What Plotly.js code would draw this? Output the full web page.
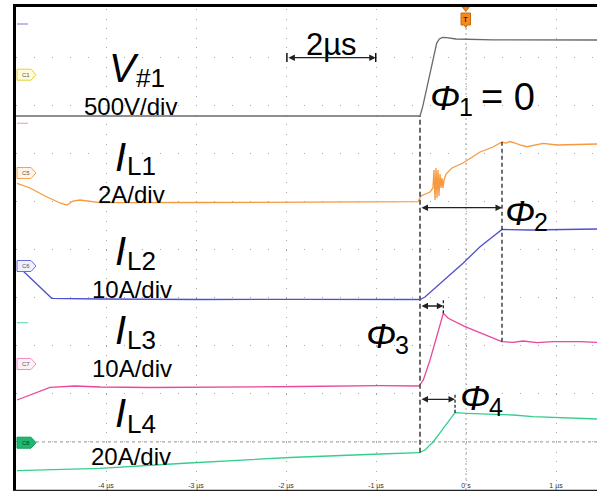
<!DOCTYPE html>
<html>
<head>
<meta charset="utf-8">
<script src="https://cdn.plot.ly/plotly-3.0.1.min.js"></script>
<style>
html,body{margin:0;padding:0;background:#fff;}
#chart{width:597px;height:491px;}
</style>
</head>
<body>
<div id="chart"></div>
<script>
// Switching transient captured on a scope.
// Time in µs (0 = trigger), trace levels in screen divisions (0 = bottom edge, 10 = top edge).

const tickVals = [-4, -3, -2, -1, 0, 1];
const tickText = ['-4 µs', '-3 µs', '-2 µs', '-1 µs', '0 s', '1 µs'];

// V#1, 500 V/div
const tV1 = [-5, -3, -1, -0.511, -0.481, -0.437, -0.363, -0.326, -0.297, -0.259, -0.214, -0.111, 0.3, 1.456];
const yV1 = [7.775, 7.78, 7.77, 7.775, 7.969, 8.351, 8.94, 9.287, 9.376, 9.41, 9.403, 9.376, 9.36, 9.356];

// I_L1, 2 A/div
const tL1 = [-4.989, -4.844, -4.678, -4.511, -4.433, -4.367, -4.289, -4.178, -4.067, -2.956, -1.844, -0.533,
  -0.5, -0.4, -0.367, -0.356, -0.344, -0.333, -0.322, -0.311, -0.3, -0.289, -0.278, -0.267, -0.256, -0.244,
  -0.222, -0.156, -0.033, 0.156, 0.3, 0.4, 0.444, 0.489, 0.544, 0.6, 0.678, 0.856, 1.011, 1.267, 1.456];
const yL1 = [6.376, 6.279, 6.112, 5.967, 5.925, 6.008, 6.029, 5.994, 5.973, 5.977, 5.988, 5.994,
  6.112, 6.195, 6.279, 6.653, 6.029, 6.694, 6.071, 6.653, 6.112, 6.57, 6.279, 6.486, 6.279, 6.445,
  6.57, 6.694, 6.798, 7.027, 7.131, 7.235, 7.214, 7.245, 7.214, 7.173, 7.137, 7.208, 7.173, 7.187, 7.193];

// I_L2, 10 A/div
const tL2 = [-4.939, -4.603, -4.067, -2.956, -1.844, -0.511, -0.456, -0.367, -0.211, -0.033, 0.156, 0.3, 0.4, 0.711, 1.044, 1.456];
const yL2 = [4.584, 3.985, 3.971, 3.96, 3.965, 3.96, 4.012, 4.158, 4.401, 4.713, 5.058, 5.266, 5.416, 5.405, 5.416, 5.426];

// I_L3, 10 A/div
const tL3 = [-4.989, -4.789, -4.622, -4.344, -4.067, -3.511, -2.956, -1.844, -0.956, -0.522, -0.474, -0.4,
  -0.326, -0.27, -0.252, -0.197, -0.011, 0.174, 0.397, 0.522, 0.633, 0.789, 0.967, 1.267, 1.456];
const yL3 = [1.871, 2.017, 2.135, 2.162, 2.141, 2.131, 2.135, 2.152, 2.168, 2.162, 2.287, 2.703,
  3.187, 3.534, 3.674, 3.57, 3.395, 3.258, 3.083, 3.071, 3.098, 3.062, 3.083, 3.083, 3.071];

// I_L4, 20 A/div
const tL4 = [-4.989, -4.067, -3.178, -1.956, -0.956, -0.519, -0.456, -0.363, -0.252, -0.122, 0.008, 0.267, 0.526, 0.744, 1.008, 1.267, 1.456];
const yL4 = [0.401, 0.451, 0.551, 0.676, 0.748, 0.775, 0.832, 1.004, 1.283, 1.607, 1.595, 1.58, 1.559, 1.524, 1.511, 1.491, 1.476];

// phase markers (µs)
const tEdge = -0.511;   // V#1 switching instant
const tPhi2 = 0.4;      // I_L2 end of ramp
const tPhi3 = -0.252;   // I_L3 peak
const tPhi4 = -0.122;   // I_L4 end of ramp

const FONT = 'Liberation Sans, Arial, sans-serif';
const W = 597, H = 491, L = 16, T = 9, PW = 581, PH = 481;
const xp = p => (p - L) / PW;
const yp = p => (T + PH - p) / PH;

const traces = [
  {x: tV1, y: yV1, color: '#6a6a6a'},
  {x: tL1, y: yL1, color: '#f7993f'},
  {x: tL2, y: yL2, color: '#4f4fd2'},
  {x: tL3, y: yL3, color: '#e8489e'},
  {x: tL4, y: yL4, color: '#35cf8c'}
].map(s => ({
  type: 'scatter', mode: 'lines', x: s.x, y: s.y,
  line: {color: s.color, width: 1.3}, hoverinfo: 'skip'
}));

// text placed by its left (or centre) x and its baseline, in page pixels
function txt(text, x, base, size, anchor, color) {
  return {
    text: text, x: xp(x), y: yp(base - 0.3465 * size), xref: 'paper', yref: 'paper',
    showarrow: false, xanchor: anchor || 'left', yanchor: 'middle', borderpad: 0,
    font: {family: FONT, size: size, color: color || '#000'}
  };
}

function dblArrow(x0, x1, y) {
  return {
    x: x1, y: y, ax: x0, ay: y, xref: 'x', yref: 'y', axref: 'x', ayref: 'y',
    text: '', showarrow: true, arrowhead: 2, startarrowhead: 2, arrowside: 'end+start',
    arrowsize: 1, startarrowsize: 1, arrowwidth: 1.3, arrowcolor: '#222',
    standoff: 0, startstandoff: 0
  };
}

const annotations = [
  txt('<i>V</i>', 108, 82, 40),
  txt('#1', 135, 87.5, 26),
  txt('500V/div', 130.5, 115, 24, 'center'),

  txt('<i>I</i>', 114, 171, 40),
  txt('L1', 125.5, 175.5, 26),
  txt('2A/div', 131, 203, 24, 'center'),

  txt('<i>I</i>', 114, 265, 40),
  txt('L2', 125.5, 270.5, 26),
  txt('10A/div', 132, 298, 24, 'center'),

  txt('<i>I</i>', 114, 344, 40),
  txt('L3', 125.5, 349.5, 26),
  txt('10A/div', 132, 377, 24, 'center'),

  txt('<i>I</i>', 114, 427, 40),
  txt('L4', 125.5, 433.5, 26),
  txt('20A/div', 131, 465, 24, 'center'),

  txt('<i>Φ</i>', 429, 110, 36),
  txt('1', 457.5, 116, 25),
  txt('= 0', 480, 110.5, 38),
  txt('<i>Φ</i>', 504, 225, 36),
  txt('2', 532.5, 231, 25),
  txt('<i>Φ</i>', 365, 348, 36),
  txt('3', 393.5, 354, 25),
  txt('<i>Φ</i>', 459, 410, 36),
  txt('4', 487.5, 416, 25),

  txt('2µs', 331, 55, 31, 'center'),

  txt('T', 465.8, 22, 8, 'center'),

  dblArrow(-1.99, -1.003, 8.988),
  dblArrow(tEdge, tPhi2, 5.869),
  dblArrow(tEdge, tPhi3, 3.825),
  dblArrow(tEdge, tPhi4, 1.886)
];

// channel tags at the left edge
const tags = [
  {name: 'C1', yc: 74.7, fill: '#fffbdc', line: '#e3cf3a', text: '#555'},
  {name: 'C5', yc: 173, fill: '#fff4e8', line: '#f5a456', text: '#555'},
  {name: 'C6', yc: 266, fill: '#eef0ff', line: '#6d6dd8', text: '#555'},
  {name: 'C7', yc: 364, fill: '#fff0f7', line: '#ef8fc2', text: '#555'},
  {name: 'C8', yc: 442.7, fill: '#1fb872', line: '#15975b', text: '#0b3a22'}
];
const shapes = [];
tags.forEach(tg => {
  const h = 5.5;
  shapes.push({
    type: 'path', xref: 'paper', yref: 'paper', layer: 'above',
    path: `M${xp(17)},${yp(tg.yc - h)} L${xp(31)},${yp(tg.yc - h)} L${xp(36)},${yp(tg.yc)} L${xp(31)},${yp(tg.yc + h)} L${xp(17)},${yp(tg.yc + h)} Z`,
    fillcolor: tg.fill, line: {color: tg.line, width: 1}
  });
  annotations.push(txt(tg.name, 25.5, tg.yc + 2, 6, 'center', tg.text));
});

// short offset markers near the left edge
[[24, '#8f8fe0'], [123.3, '#f2a6cc'], [322.7, '#6fdcaa']].forEach(m => {
  shapes.push({type: 'line', xref: 'paper', yref: 'paper', x0: xp(17), x1: xp(28), y0: yp(m[0]), y1: yp(m[0]),
    line: {color: m[1], width: 1.2}});
});

// C8 ground reference
shapes.push({type: 'line', xref: 'paper', yref: 'y', x0: xp(36), x1: 1, y0: 1, y1: 1, layer: 'below',
  line: {color: '#a8a8a8', width: 1.4, dash: '3px,3px'}});

// trigger position line
shapes.push({type: 'line', xref: 'x', yref: 'paper', x0: 0, x1: 0, y0: 0, y1: yp(26), layer: 'below',
  line: {color: '#b4b4b4', width: 1.2, dash: '2px,3px'}});

// phase marker lines
shapes.push({type: 'line', xref: 'x', yref: 'y', x0: tEdge, x1: tEdge, y0: 0.775, y1: 7.775,
  line: {color: '#5a5a5a', width: 1.8, dash: '5px,3px'}});
shapes.push({type: 'line', xref: 'x', yref: 'y', x0: tPhi2, x1: tPhi2, y0: 3.083, y1: 7.235,
  line: {color: '#111', width: 1.2, dash: '4px,3px'}});
shapes.push({type: 'line', xref: 'x', yref: 'y', x0: tPhi3, x1: tPhi3, y0: 3.674, y1: 3.95,
  line: {color: '#111', width: 1.2, dash: '3px,2px'}});
shapes.push({type: 'line', xref: 'x', yref: 'y', x0: tPhi4, x1: tPhi4, y0: 1.607, y1: 2.017,
  line: {color: '#111', width: 1.2, dash: '3px,2px'}});

// 2 µs scale bar end ticks
[-1.99, -1.003].forEach(t => {
  shapes.push({type: 'line', xref: 'x', yref: 'y', x0: t, x1: t, y0: 8.898, y1: 9.085, line: {color: '#111', width: 1.5}});
});

// trigger flag
shapes.push({type: 'path', xref: 'paper', yref: 'paper', layer: 'above',
  path: `M${xp(461.5)},${yp(6)} L${xp(470)},${yp(6)} L${xp(465.8)},${yp(11.5)} Z`,
  fillcolor: '#f28a22', line: {color: '#c96a10', width: 1}});
shapes.push({type: 'path', xref: 'paper', yref: 'paper', layer: 'below',
  path: `M${xp(461)},${yp(13)} L${xp(470.5)},${yp(13)} L${xp(470.5)},${yp(25)} L${xp(467.5)},${yp(25)} L${xp(465.8)},${yp(27.5)} L${xp(464)},${yp(25)} L${xp(461)},${yp(25)} Z`,
  fillcolor: '#f28a22', line: {color: '#c96a10', width: 1}});

// frame
shapes.push({type: 'line', xref: 'paper', yref: 'paper', x0: xp(14.5), x1: xp(14.5), y0: yp(4), y1: yp(491),
  line: {color: '#000', width: 3}});
shapes.push({type: 'line', xref: 'paper', yref: 'paper', x0: xp(13), x1: xp(600), y0: yp(5.5), y1: yp(5.5),
  line: {color: '#000', width: 3}});
shapes.push({type: 'line', xref: 'paper', yref: 'paper', x0: xp(13), x1: xp(600), y0: yp(490.5), y1: yp(490.5),
  line: {color: '#222', width: 1.5}});

const layout = {
  width: W, height: H,
  margin: {l: L, r: W - L - PW, t: T, b: H - T - PH, pad: 0},
  paper_bgcolor: '#fff', plot_bgcolor: '#fff',
  showlegend: false,
  xaxis: {
    range: [-5, -5 + PW / 90], dtick: 1, tick0: 0,
    showgrid: true, gridcolor: '#a9a9a9', gridwidth: 1, griddash: '1px,8.62px',
    zeroline: false, showline: false, ticks: '',
    tickvals: tickVals, ticktext: tickText, ticklabelposition: 'inside', ticklabelstandoff: -2,
    tickfont: {family: FONT, size: 7, color: '#333'}, fixedrange: true
  },
  yaxis: {
    range: [0, 10], dtick: 1, tick0: 0,
    showgrid: true, gridcolor: '#a9a9a9', gridwidth: 1, griddash: '1px,17px',
    zeroline: false, showline: false, ticks: '', showticklabels: false, fixedrange: true
  },
  shapes: shapes,
  annotations: annotations
};

Plotly.newPlot('chart', traces, layout, {displayModeBar: false, staticPlot: true});
</script>
</body>
</html>
